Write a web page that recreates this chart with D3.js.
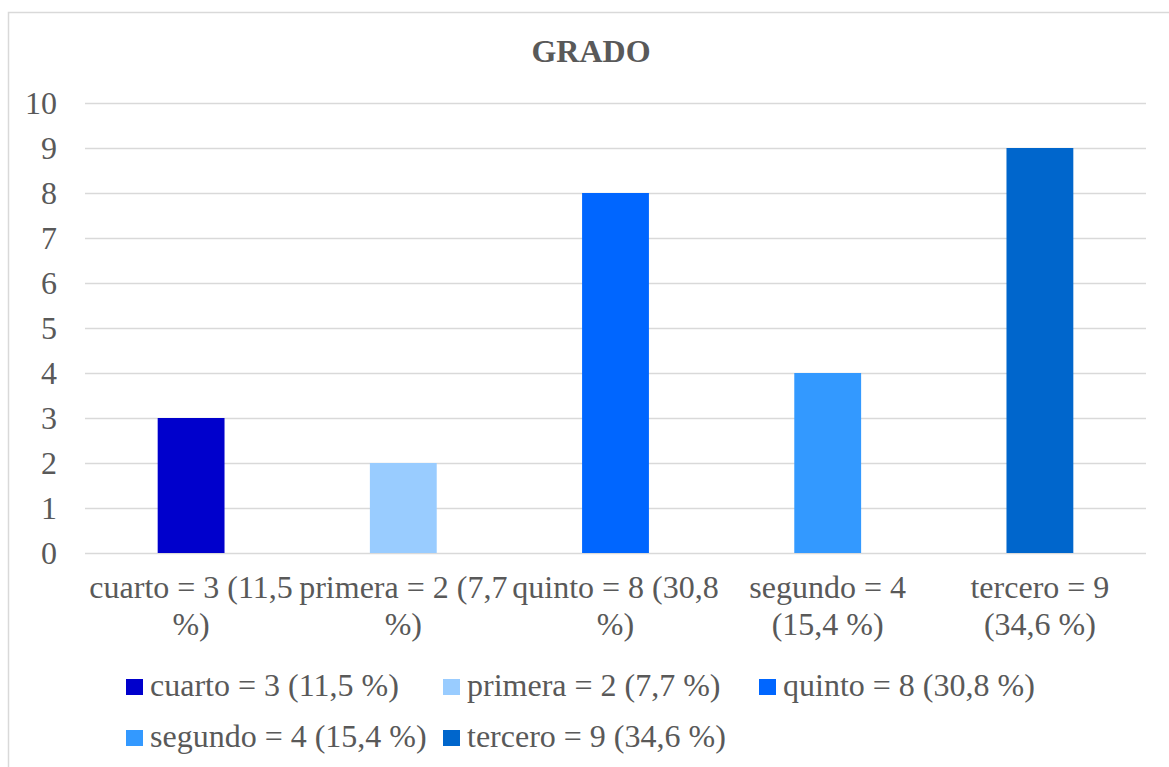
<!DOCTYPE html>
<html>
<head>
<meta charset="utf-8">
<script src="https://cdn.jsdelivr.net/npm/d3@7"></script>
<style>
  body { margin: 0; background: #fff; }
  text { font-family: "Liberation Serif", "Times New Roman", serif; fill: #595959; }
</style>
</head>
<body>
<div id="container"></div>
<script>
// data
var categories = ["cuarto", "primera", "quinto", "segundo", "tercero"];
var values = [3, 2, 8, 4, 9];
var legendLabels = ["cuarto = 3 (11,5 %)", "primera = 2 (7,7 %)", "quinto = 8 (30,8 %)",
                    "segundo = 4 (15,4 %)", "tercero = 9 (34,6 %)"];
var tickLines = [["cuarto = 3 (11,5", "%)"], ["primera = 2 (7,7", "%)"], ["quinto = 8 (30,8", "%)"],
                 ["segundo = 4", "(15,4 %)"], ["tercero = 9", "(34,6 %)"]];
var colors = ["#0000cc", "#99ccff", "#0066ff", "#3399ff", "#0066cc"];
var yTicks = [0, 1, 2, 3, 4, 5, 6, 7, 8, 9, 10];

var W = 1169, H = 767;
var margin = {top: 103, left: 85, right: 23, bottom: 214};
var width = W - margin.left - margin.right,
    height = H - margin.top - margin.bottom;
var fs = "32px";

var root = d3.select("#container").append("svg")
    .attr("width", W).attr("height", H);

// chart border
root.append("rect")
  .attr("x", 8.5).attr("y", 12.5)
  .attr("width", 1170).attr("height", 770)
  .attr("fill", "none").attr("stroke", "#d9d9d9").attr("stroke-width", 1.5);

// title
root.append("text")
  .attr("x", 591).attr("y", 62)
  .attr("text-anchor", "middle")
  .style("font-size", "32px").style("font-weight", "bold")
  .text("GRADO");

var svg = root.append("g")
  .attr("transform", "translate(" + margin.left + "," + margin.top + ")");

var x = d3.scaleBand().domain(categories).range([0, width]).paddingInner(0.685).paddingOuter(0.3425);
var y = d3.scaleLinear().domain([0, 10]).range([height, 0]);

// gridlines
svg.selectAll(".grid")
  .data(yTicks)
  .enter().append("line")
    .attr("x1", 0).attr("x2", width)
    .attr("y1", function(d) { return Math.round(y(d)) + 0.5; })
    .attr("y2", function(d) { return Math.round(y(d)) + 0.5; })
    .attr("stroke", "#d9d9d9").attr("stroke-width", 1.5);

// y axis labels
svg.selectAll(".ylab")
  .data(yTicks)
  .enter().append("text")
    .attr("x", -28)
    .attr("y", function(d) { return y(d) + 11; })
    .attr("text-anchor", "end")
    .style("font-size", fs)
    .text(function(d) { return d; });

// bars
svg.selectAll(".bar")
  .data(values)
  .enter().append("rect")
    .attr("x", function(d, i) { return x(categories[i]); })
    .attr("y", function(d) { return y(d); })
    .attr("width", x.bandwidth())
    .attr("height", function(d) { return height - y(d); })
    .attr("fill", function(d, i) { return colors[i]; });

// x labels
var xl = svg.selectAll(".xlab")
  .data(categories)
  .enter().append("text")
    .attr("text-anchor", "middle")
    .attr("transform", function(d) { return "translate(" + (x(d) + x.bandwidth() / 2) + "," + (height + 45) + ")"; })
    .style("font-size", fs);
xl.selectAll("tspan")
  .data(function(d, i) { return tickLines[i]; })
  .enter().append("tspan")
    .attr("x", 0)
    .attr("y", function(d, j) { return j * 37; })
    .text(function(d) { return d; });

// legend
var legendPos = [[126, 679], [443, 679], [759, 679], [126, 730], [443, 730]];
var lg = root.selectAll(".legend")
  .data(legendLabels)
  .enter().append("g")
    .attr("transform", function(d, i) { return "translate(" + legendPos[i][0] + "," + legendPos[i][1] + ")"; });
lg.append("rect")
  .attr("width", 17).attr("height", 16)
  .attr("fill", function(d, i) { return colors[i]; });
lg.append("text")
  .attr("x", 24).attr("y", 17)
  .style("font-size", fs)
  .text(function(d) { return d; });
</script>
</body>
</html>
